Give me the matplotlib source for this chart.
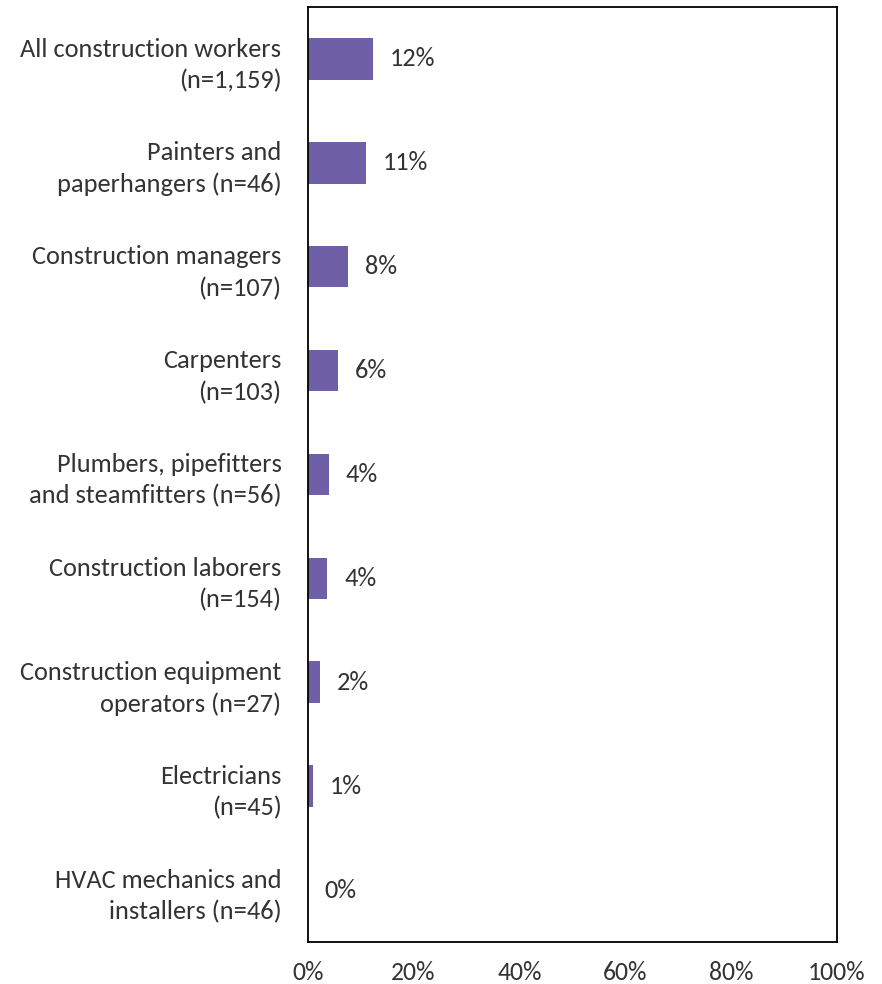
import matplotlib
matplotlib.use("Agg")
import matplotlib.pyplot as plt
from matplotlib.ticker import PercentFormatter

plt.rcParams['font.family'] = ['Carlito', 'Liberation Sans Narrow', 'DejaVu Sans']

# share of workers per occupation
occupations = [
    "All construction workers\n(n=1,159)",
    "Painters and\npaperhangers (n=46)",
    "Construction managers\n(n=107)",
    "Carpenters\n(n=103)",
    "Plumbers, pipefitters\nand steamfitters (n=56)",
    "Construction laborers\n(n=154)",
    "Construction equipment\noperators (n=27)",
    "Electricians\n(n=45)",
    "HVAC mechanics and\ninstallers (n=46)",
]
shares = [12.3, 11.0, 7.6, 5.7, 4.0, 3.7, 2.3, 1.0, 0.0]
share_labels = ["12%", "11%", "8%", "6%", "4%", "4%", "2%", "1%", "0%"]
xticks = [0, 20, 40, 60, 80, 100]

text_color = '#333333'
bar_color = '#6E5FA7'
fs = 19

fig = plt.figure(figsize=(8.82, 9.84), dpi=100)
ax = fig.add_axes([0.349, 0.0427, 0.5996, 0.9503])

ypos = list(range(len(occupations)))
bars = ax.barh(ypos, shares, height=0.4, color=bar_color)
ax.bar_label(bars, labels=share_labels, padding=12, fontsize=fs, color=text_color)

ax.set_ylim(len(occupations) - 0.5, -0.5)
ax.set_xlim(0, 100)
ax.set_yticks(ypos)
ax.set_yticklabels(occupations, fontsize=fs, color=text_color, linespacing=1.42)
ax.set_xticks(xticks)
ax.xaxis.set_major_formatter(PercentFormatter(decimals=0))
ax.tick_params(axis='x', length=0, pad=14, labelsize=fs - 0.5, labelcolor=text_color)
ax.tick_params(axis='y', length=0, pad=19)

for s in ax.spines.values():
    s.set_linewidth(1.3)
    s.set_color('black')

fig.savefig('out.png', dpi=100)
